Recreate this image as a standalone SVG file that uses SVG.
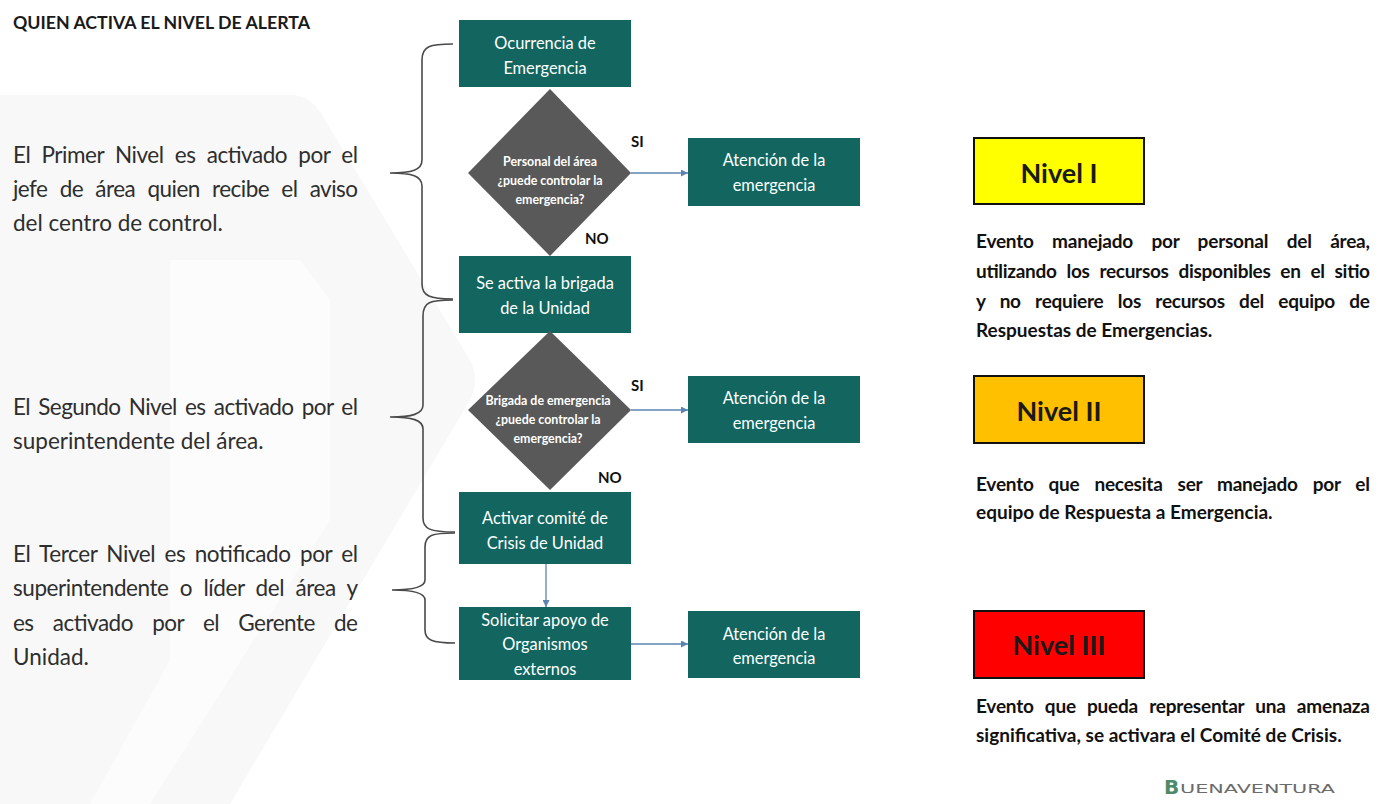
<svg xmlns="http://www.w3.org/2000/svg" width="1387" height="804" viewBox="0 0 1387 804">
<defs>
<style>
.box{fill:#12665F;}
.dia{fill:#595959;}
.bt{font-family:Lato,"Liberation Sans",sans-serif;font-size:16.4px;fill:#ffffff;text-anchor:middle;}
.dt{font-family:Lato,"Liberation Sans",sans-serif;font-size:12.4px;font-weight:bold;fill:#ffffff;text-anchor:middle;}
.lab{font-family:Lato,"Liberation Sans",sans-serif;font-size:15px;font-weight:bold;fill:#111111;}
.lt{font-family:Lato,"Liberation Sans",sans-serif;font-size:22.5px;fill:#2e2e2e;}
.rt{font-family:Lato,"Liberation Sans",sans-serif;font-size:19px;font-weight:bold;fill:#111111;}
.nv{font-family:Lato,"Liberation Sans",sans-serif;font-size:27px;font-weight:bold;fill:#1a1a1a;text-anchor:middle;}
.nb{stroke:#111111;stroke-width:2;}
.brace{fill:none;stroke:#4a4a4a;stroke-width:1.6;}
.con{fill:none;stroke:#5d84b0;stroke-width:1.3;}
</style>
<marker id="arr" viewBox="0 0 10 10" refX="10" refY="5" markerWidth="7" markerHeight="7" markerUnits="userSpaceOnUse" orient="auto">
<path d="M0,0 L10,5 L0,10 z" fill="#5d84b0"/>
</marker>
</defs>
<rect x="0" y="0" width="1387" height="804" fill="#ffffff"/>
<g id="watermark">
<path d="M0,95 L290,95 Q310,95 322,115 L470,360 Q480,380 470,400 L230,804 L0,804 Z" fill="#f8f8f8"/>
<path d="M170,260 L300,260 L330,300 L330,520 L150,804 L90,804 L170,660 Z" fill="#fcfcfc"/>
</g>
<g id="title"><text x="13" y="29" font-family="Lato,'Liberation Sans',sans-serif" font-size="16.5" font-weight="bold" fill="#1a1a1a" textLength="297" lengthAdjust="spacingAndGlyphs">QUIEN ACTIVA EL NIVEL DE ALERTA</text></g>
<g id="desc1">
<text class="lt" x="13" y="163" word-spacing="6" textLength="345" lengthAdjust="spacing">El Primer Nivel es activado por el</text>
<text class="lt" x="13" y="197" word-spacing="7" textLength="345" lengthAdjust="spacing">jefe de área quien recibe el aviso</text>
<text class="lt" x="13" y="231">del centro de control.</text>
</g>
<g id="desc2">
<text class="lt" x="13" y="415" word-spacing="3" textLength="345" lengthAdjust="spacing">El Segundo Nivel es activado por el</text>
<text class="lt" x="13" y="449">superintendente del área.</text>
</g>
<g id="desc3">
<text class="lt" x="13" y="562" word-spacing="4" textLength="345" lengthAdjust="spacing">El Tercer Nivel es notificado por el</text>
<text class="lt" x="13" y="596" word-spacing="6" textLength="345" lengthAdjust="spacing">superintendente o líder del área y</text>
<text class="lt" x="13" y="631" word-spacing="14" textLength="345" lengthAdjust="spacing">es activado por el Gerente de</text>
<text class="lt" x="13" y="665">Unidad.</text>
</g>
<g id="braces">
<path class="brace" d="M453,44 C430,44 422,46 422,60 L422,160 C422,170 412,173 390,173 C412,173 422,176 422,186 L422,284 C422,296 430,299 453,299"/>
<path class="brace" d="M453,300 C430,300 423,302 423,316 L423,405 C423,414 412,417 390,417 C412,417 423,420 423,429 L423,518 C423,529 430,532 455,532"/>
<path class="brace" d="M455,533 C432,533 425,535 425,547 L425,580 C425,587 414,590 392,590 C414,590 425,593 425,600 L425,630 C425,640 432,643 455,643"/>
</g>
<g id="n_ocurrencia">
<rect class="box" x="459" y="20" width="172" height="67"/>
<text class="bt" x="545" y="49">Ocurrencia de</text>
<text class="bt" x="545" y="74">Emergencia</text>
</g>
<g id="d_personal">
<polygon class="dia" points="550,89 631,173 550,256 468,173"/>
<text class="dt" x="550" y="166">Personal del área</text>
<text class="dt" x="550" y="185">¿puede controlar la</text>
<text class="dt" x="550" y="204">emergencia?</text>
</g>
<g id="n_atencion1">
<rect class="box" x="688" y="138" width="172" height="68"/>
<text class="bt" x="774" y="166">Atención de la</text>
<text class="bt" x="774" y="191">emergencia</text>
</g>
<g id="n_brigada">
<rect class="box" x="459" y="256" width="172" height="77"/>
<text class="bt" x="545" y="289">Se activa la brigada</text>
<text class="bt" x="545" y="314">de la Unidad</text>
</g>
<g id="d_brigada">
<polygon class="dia" points="550,331 631,410 550,490 468,410"/>
<text class="dt" x="548" y="405">Brigada de emergencia</text>
<text class="dt" x="548" y="424">¿puede controlar la</text>
<text class="dt" x="548" y="443">emergencia?</text>
</g>
<g id="n_atencion2">
<rect class="box" x="688" y="376" width="172" height="67"/>
<text class="bt" x="774" y="404">Atención de la</text>
<text class="bt" x="774" y="429">emergencia</text>
</g>
<g id="n_comite">
<rect class="box" x="459" y="492" width="172" height="72"/>
<text class="bt" x="545" y="524">Activar comité de</text>
<text class="bt" x="545" y="549">Crisis de Unidad</text>
</g>
<g id="n_solicitar">
<rect class="box" x="459" y="607" width="172" height="73"/>
<text class="bt" x="545" y="626">Solicitar apoyo de</text>
<text class="bt" x="545" y="650">Organismos</text>
<text class="bt" x="545" y="675">externos</text>
</g>
<g id="n_atencion3">
<rect class="box" x="688" y="611" width="172" height="67"/>
<text class="bt" x="774" y="640">Atención de la</text>
<text class="bt" x="774" y="664">emergencia</text>
</g>
<g id="connectors">
<line class="con" x1="631" y1="173" x2="688" y2="173" marker-end="url(#arr)"/>
<line class="con" x1="631" y1="410" x2="688" y2="410" marker-end="url(#arr)"/>
<line class="con" x1="546" y1="564" x2="546" y2="607" marker-end="url(#arr)"/>
<line class="con" x1="631" y1="644" x2="688" y2="644" marker-end="url(#arr)"/>
<text class="lab" x="631" y="147">SI</text>
<text class="lab" x="585" y="244">NO</text>
<text class="lab" x="631" y="391">SI</text>
<text class="lab" x="598" y="483">NO</text>
</g>
<g id="nivel1">
<rect class="nb" x="974" y="138" width="170" height="66" fill="#ffff00"/>
<text class="nv" x="1059" y="183">Nivel I</text>
<text class="rt" x="976" y="248" word-spacing="14" textLength="394" lengthAdjust="spacing">Evento manejado por personal del área,</text>
<text class="rt" x="976" y="278" word-spacing="5.5" textLength="394" lengthAdjust="spacing">utilizando los recursos disponibles en el sitio</text>
<text class="rt" x="976" y="308" word-spacing="10" textLength="394" lengthAdjust="spacing">y no requiere los recursos del equipo de</text>
<text class="rt" x="976" y="337">Respuestas de Emergencias.</text>
</g>
<g id="nivel2">
<rect class="nb" x="974" y="376" width="170" height="67" fill="#ffc000"/>
<text class="nv" x="1059" y="421">Nivel II</text>
<text class="rt" x="976" y="491" word-spacing="10.5" textLength="394" lengthAdjust="spacing">Evento que necesita ser manejado por el</text>
<text class="rt" x="976" y="519">equipo de Respuesta a Emergencia.</text>
</g>
<g id="nivel3">
<rect class="nb" x="974" y="611" width="170" height="67" fill="#ff0000"/>
<text class="nv" x="1059" y="655">Nivel III</text>
<text class="rt" x="976" y="713" word-spacing="6.8" textLength="394" lengthAdjust="spacing">Evento que pueda representar una amenaza</text>
<text class="rt" x="976" y="742">significativa, se activara el Comité de Crisis.</text>
</g>
<g id="logo">
<text x="1164" y="794" font-family="'DejaVu Sans',sans-serif" font-size="20" font-weight="bold" fill="#4f8a68">B</text>
<text x="1180" y="793" font-family="'DejaVu Sans',sans-serif" font-size="13" fill="#6b6b6b" textLength="155" lengthAdjust="spacingAndGlyphs">UENAVENTURA</text>
</g>
</svg>
